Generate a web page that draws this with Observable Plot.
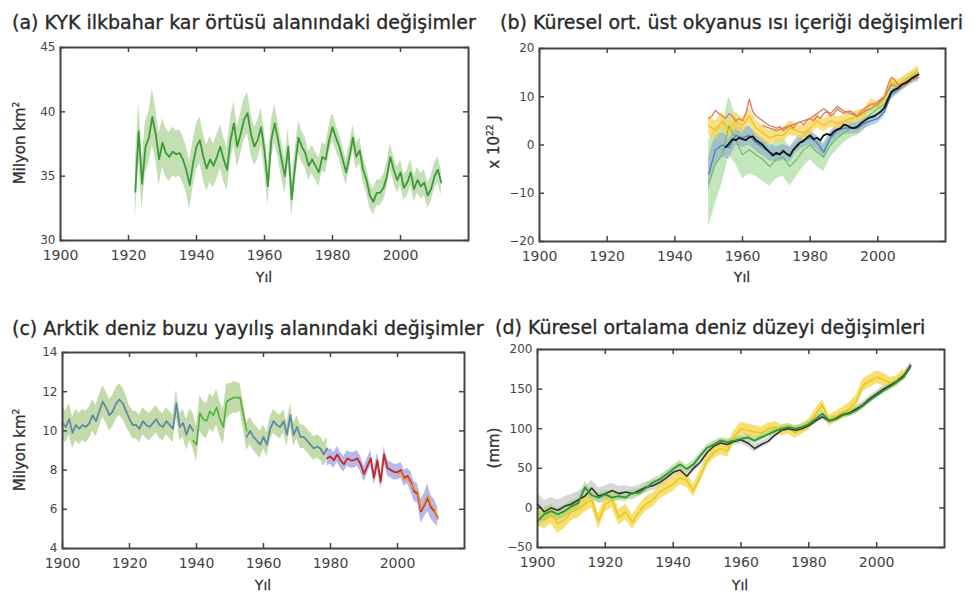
<!DOCTYPE html>
<html><head><meta charset="utf-8">
<script src="https://cdn.jsdelivr.net/npm/d3@7"></script>
<script src="https://cdn.jsdelivr.net/npm/@observablehq/plot@0.6"></script>
<style>
body{margin:0;background:#fff;}
#root{position:relative;width:977px;height:603px;overflow:hidden;font-family:"DejaVu Sans",sans-serif;background:#fff;}
.t{position:absolute;white-space:nowrap;color:#2a2a2a;font-size:19px;line-height:1;transform:translateY(-50%);-webkit-text-stroke:0.35px #2a2a2a;}
.xl{position:absolute;white-space:nowrap;color:#333;font-size:14px;line-height:1;transform:translate(-50%,-50%);-webkit-text-stroke:0.3px #333;}
.yl{position:absolute;white-space:nowrap;color:#333;font-size:15px;line-height:1;transform:translate(-50%,-50%) rotate(-90deg);-webkit-text-stroke:0.3px #333;}
svg text{-webkit-text-stroke:0.25px #444;}
</style></head>
<body><div id="root"></div>
<script>
// ---------- shared ----------
const xTicks = [1900, 1920, 1940, 1960, 1980, 2000];

// ---------- (a) snow cover ----------
const aStart = 1922;
const aSnow = [33.8,38.5,34.4,37.3,38.0,39.6,38.3,36.3,37.6,36.8,
  36.5,36.9,36.7,36.8,36.3,35.5,34.3,36.0,37.3,37.8,
  36.5,35.6,36.3,35.8,36.5,37.3,36.3,35.5,37.8,39.1,
  37.3,38.3,39.4,39.9,38.3,37.3,37.8,38.8,37.0,34.2,
  37.8,39.1,37.8,36.3,35.0,37.3,33.2,35.8,38.0,37.3,
  36.8,35.8,36.3,35.8,35.3,36.5,36.3,37.8,38.8,38.0,
  37.3,36.3,35.3,36.5,38.0,36.5,37.0,35.5,34.7,33.5,
  33.0,33.7,33.7,34.1,35.0,36.5,35.5,34.7,35.3,34.1,
  34.5,35.3,34.0,34.7,34.2,34.5,33.5,34.0,35.0,35.5,
  34.5];
const aUnc = [2.2,2.3,2.0,2.0,2.0,2.2,2.0,2.0,1.9,1.9,
  1.9,1.9,1.8,1.8,1.8,1.8,1.9,1.8,1.8,1.8,
  1.8,1.8,1.8,1.7,1.7,1.7,1.7,1.7,1.7,1.7,
  1.6,1.6,1.6,1.6,1.6,1.5,1.5,1.5,1.5,1.5,
  1.5,1.5,1.4,1.4,1.4,1.4,1.4,1.3,1.3,1.2,
  1.2,1.1,1.1,1.1,1.1,1.1,1.1,1.1,1.1,1.0,
  1.0,1.0,1.0,1.0,1.0,1.0,1.0,1.0,1.0,1.0,
  1.0,1.0,1.0,1.0,1.0,1.0,1.0,1.0,1.0,1.0,
  1.0,1.0,1.0,1.0,1.0,1.0,1.0,1.0,1.0,1.0,
  1.0];
const aYTicks = [30, 35, 40, 45];

// ---------- (b) ocean heat content ----------
const bBlackStart = 1955;
const bBlack = [-0.5,0.3,1.2,1.0,1.5,1.2,1.0,1.6,1.8,1.0,
  0.5,0.0,-0.8,-1.5,-2.2,-1.6,-2.0,-1.2,-1.8,-2.3,
  -1.0,-0.3,0.5,0.8,1.5,2.0,1.2,1.5,1.0,2.0,
  2.3,2.0,2.8,3.2,3.5,4.2,4.0,3.6,3.5,3.8,
  4.5,5.0,5.5,5.8,6.0,6.5,7.0,7.8,9.5,11.0,
  11.5,11.8,12.5,12.8,13.2,13.8,14.2,14.6];
const bOrangeStart = 1950;
const bOrange = [5.5,6.0,7.2,6.5,6.0,5.5,6.5,6.0,5.0,5.5,
  5.0,6.5,9.5,7.0,6.0,5.5,5.0,4.5,4.0,3.8,
  3.5,3.8,3.0,3.5,4.0,3.5,4.5,4.8,4.2,5.0,
  5.5,5.0,6.0,5.5,6.5,7.0,6.0,6.5,7.5,7.0,
  6.5,7.0,7.0,6.5,6.0,7.0,7.5,8.0,8.5,8.5,
  9.0,9.5,10.0,12.5,14.0,13.5,12.5,12.0,12.5,13.0,
  13.5,13.8,14.0];
const bStart2 = 1950; // two-year steps
const bGreen = [-8,-4,-2,4,1,-2,-1,-2,-3,-4.5,-3,-2.5,-4.5,-3,-1,0,
  -1.5,-2.5,0,1.5,2.5,3.5,4,5,6.5,7.5,8.5,11,12,13,14,15];
const bGreenUnc = [9,8,6,6,5,5,5,4.5,4.5,4,4,4,4,3.5,3.5,3,
  3,3,2.5,2.5,2,2,2,2,1.5,1.5,1.5,1.5,1.2,1.2,1,1];
const bBlue = [-6,-1,0,-0.5,2,1.5,2,0.5,-0.5,-1.5,-2,-1.5,-2,0,1,1.5,
  0.5,-1.5,1.5,3,3.5,3.5,3.5,4.5,5,5.5,7,10.5,11.5,12.5,13.5,14];
const bBlueUnc = [3.5,3,2.5,2.5,2,2,2,1.8,1.8,1.8,1.6,1.6,1.6,1.5,1.5,1.5,
  1.4,1.4,1.3,1.3,1.2,1.2,1.1,1.1,1.0,1.0,1.0,0.9,0.9,0.8,0.8,0.8];
const bYellow = [4,3,5,3,5,4,6,3.5,2.5,1.5,2,2,3.5,3,2.5,3.5,
  5,4,5,4.5,5,5.5,6,6.5,8.5,8,9.5,13,12.5,13.5,14.5,15.5];
const bYellowUnc = [2.0,2.0,1.8,1.8,1.8,1.6,1.6,1.6,1.5,1.5,1.5,1.5,1.5,1.4,1.4,1.4,
  1.4,1.3,1.3,1.3,1.2,1.2,1.2,1.1,1.1,1.0,1.0,1.0,1.0,0.9,0.9,0.9];
const bBrownStart = 1966;
const bBrown = [4,3.5,3,3.5,4,4.5,5,5.5,6.5,7.5,6.5,8,
  7,6.5,6,7,7.5,8.5,10,12.5,12,13,13.5,14];
const bYTicks = [-20, -10, 0, 10, 20];

// ---------- (c) Arctic sea ice ----------
const cStart = 1900;
const cBlue = [10.4,10.2,10.6,9.9,10.3,10.1,10.3,10.2,10.4,10.8,
  10.5,11.0,11.5,11.2,10.8,11.0,11.4,11.6,11.4,11.0,
  10.6,10.3,10.3,10.1,10.5,10.3,10.2,10.4,10.6,10.3,
  10.2,10.5,10.3,10.1,11.4,10.2,10.4,9.8,10.3,10.0,
  null,null,null,null,null,null,null,null,null,null,
  null,null,null,null,null,9.7,10.0,9.7,9.5,9.3,
  9.7,9.3,10.1,10.5,10.3,10.2,10.5,9.8,10.8,9.8,
  10.2,9.7,9.7,9.5,9.3,9.1,9.2,9.1,8.8,9.1];
const cBandUnc = [0.8,0.8,0.8,0.8,0.8,0.8,0.8,0.8,0.8,0.8,
  0.8,0.8,0.8,0.8,0.8,0.8,0.8,0.8,0.8,0.8,
  0.7,0.7,0.7,0.7,0.7,0.7,0.7,0.7,0.7,0.7,
  0.7,0.7,0.7,0.7,0.7,0.7,0.7,0.8,0.8,0.9,
  0.9,0.9,0.9,0.9,0.9,0.9,0.9,0.9,0.9,0.9,
  0.8,0.8,0.8,0.7,0.7,0.7,0.7,0.7,0.7,0.7,
  0.6,0.6,0.6,0.6,0.6,0.6,0.6,0.6,0.6,0.6,
  0.6,0.6,0.6,0.6,0.6,0.6,0.6,0.6,0.6,0.6];
const cGreenStart = 1939;
const cGreen = [9.5,9.3,10.9,10.6,10.5,11.0,10.8,11.2,10.6,10.2,
  11.5,11.6,11.7,11.7,11.7,10.8,10.0];
const cRedStart = 1979;
const cRed = [8.6,8.7,8.5,8.8,8.5,8.3,8.6,8.5,8.5,8.6,
  8.3,7.8,8.2,8.6,7.6,8.5,7.4,8.8,8.1,8.0,
  7.9,7.9,8.0,7.6,7.7,7.4,6.9,6.8,5.9,6.2,
  6.6,6.1,5.9,5.6];
const cRedUnc = [0.4,0.4,0.4,0.4,0.4,0.4,0.4,0.4,0.4,0.4,
  0.4,0.4,0.4,0.4,0.4,0.4,0.4,0.4,0.4,0.4,
  0.4,0.4,0.4,0.4,0.4,0.5,0.5,0.5,0.6,0.6,
  0.7,0.6,0.6,0.5];
const cOrangeStart = 2000;
const cOrange = [7.8,7.9,7.5,7.6,7.3,7.0,6.9,6.0,6.3,6.7,6.2,6.0,5.5];
const cYTicks = [4, 6, 8, 10, 12, 14];

// ---------- (d) sea level ----------
const dStart = 1900; // two-year steps
const dGreen = [-17,-8,-4,-8,-4,2,6,26,16,13,17,13,15,13,19,19,25,32,36,42,
  49,55,49,55,66,76,80,85,83,85,87,89,85,89,93,97,100,102,100,102,
  106,112,119,110,112,117,119,123,129,136,142,148,153,159,165,178];
const dGreenUnc = [9,9,8,8,8,7,7,7,6,6,6,6,6,5,5,5,5,5,5,5,
  5,5,5,5,4,4,4,4,4,4,4,4,4,4,4,4,4,4,4,4,
  4,4,4,4,4,4,4,4,4,4,4,4,4,4,4,4];
const dBlack = [5,-5,0,-3,2,5,10,15,25,15,18,22,18,20,18,22,26,28,32,38,
  45,48,40,50,58,70,78,82,80,84,86,82,75,80,84,92,98,100,98,100,
  104,110,115,110,113,118,120,125,130,138,144,150,155,160,167,180];
const dGrayUnc = [14,14,13,13,12,12,11,11,10,10,10,9,9,8,8,7,7,6,6,6,
  6,5,5,5,5,5,5,5,5,5,5,5,5,4,4,4,4,4,4,4,
  4,4,4,4,4,4,4,4,4,4,4,4,4,4,4,5];
const dYellow = [-10,-15,-8,-20,-15,-5,-2,5,10,-17,5,10,-12,-5,-18,-5,5,10,20,25,
  30,38,35,22,40,60,70,75,72,90,100,98,96,95,100,102,98,100,95,100,
  105,118,130,110,115,120,125,135,155,160,165,162,158,160,170];
const dYellowUnc = [12,12,12,12,11,11,11,10,10,10,10,10,10,10,9,9,9,9,9,9,
  9,9,9,8,8,8,8,8,8,8,8,8,8,7,7,7,7,7,7,7,
  7,7,7,7,7,7,8,8,8,8,8,8,7,7,6];
const dYTicks = [-50, 0, 50, 100, 150, 200];

// ---------- helpers ----------
const series = (start, step, vals, unc) =>
  vals.map((v, i) => ({year: start + i * step, v, u: unc ? unc[i] : 0}));
const band = (data, fill, op) => Plot.areaY(data.filter(d => d.v != null),
  {x: "year", y1: d => d.v - d.u, y2: d => d.v + d.u, fill, fillOpacity: op, curve: "linear"});
const line = (data, stroke, w) => Plot.line(data, {x: "year", y: "v", stroke, strokeWidth: w, curve: "linear"});

const root = document.getElementById("root");
function panel(left, top, w, h, m, yDomain, yTicks, marks) {
  const ih = h - m[0] - m[2], iw = w - m[1] - m[3], tk = 5;
  const tickStyle = {stroke: "#444", strokeWidth: 1.5};
  const p = Plot.plot({
    width: w, height: h,
    marginTop: m[0], marginRight: m[1], marginBottom: m[2], marginLeft: m[3],
    style: {fontFamily: "DejaVu Sans, sans-serif", fontSize: "12px", color: "#444", background: "transparent", overflow: "visible"},
    x: {domain: [1900, 2020]},
    y: {domain: yDomain},
    marks: [
      ...marks,
      Plot.tickX(xTicks, {x: d => d, insetTop: ih - tk, ...tickStyle}),
      Plot.tickX(xTicks, {x: d => d, insetBottom: ih - tk, ...tickStyle}),
      Plot.tickY(yTicks, {y: d => d, insetRight: iw - tk, ...tickStyle}),
      Plot.tickY(yTicks, {y: d => d, insetLeft: iw - tk, ...tickStyle}),
      Plot.frame({stroke: "#444", strokeWidth: 2}),
      Plot.axisX(xTicks, {anchor: "bottom", tickSize: 0, tickPadding: 10, fontSize: 14, tickFormat: d => String(d), label: null}),
      Plot.axisY(yTicks, {anchor: "left", tickSize: 0, tickPadding: 5, fontSize: 12, label: null})
    ]
  });
  p.style.position = "absolute"; p.style.left = left + "px"; p.style.top = top + "px";
  root.appendChild(p);
}
function txt(cls, s, x, y) {
  const d = document.createElement("div");
  d.className = cls; d.innerHTML = s;
  d.style.left = x + "px"; d.style.top = y + "px";
  root.appendChild(d);
}

// (a)
const aData = series(aStart, 1, aSnow, aUnc);
panel(0, 0, 488, 300, [47, 20, 60, 60], [30, 45], aYTicks, [
  band(aData, "#b9d9a6", 0.85),
  line(aData, "#3d9a3a", 1.8)
]);
// (b)
const bGreenD = series(bStart2, 2, bGreen, bGreenUnc);
const bBlueD = series(bStart2, 2, bBlue, bBlueUnc);
const bYellowD = series(bStart2, 2, bYellow, bYellowUnc);
panel(488, 0, 489, 300, [48, 32, 59, 51], [-20, 20], bYTicks, [
  band(bGreenD, "#a9dca0", 0.7),
  band(bBlueD, "#8aa8cc", 0.6),
  band(bYellowD, "#f6d55a", 0.75),
  line(bGreenD, "#6cbf6a", 1.2),
  line(bBlueD, "#4f7fb8", 1.3),
  line(bYellowD, "#f0c020", 1.3),
  line(series(bBrownStart, 2, bBrown), "#b58a6a", 1.3),
  line(series(bOrangeStart, 1, bOrange), "#ef7a5a", 1.4),
  line(series(bBlackStart, 1, bBlack), "#111", 1.8)
]);
// (c)
const cBlueD = series(cStart, 1, cBlue, cBandUnc);
const cBandD = cBlueD.map(d => ({...d, v: d.v != null ? d.v : cGreen[d.year - cGreenStart]}));
const cRedD = series(cRedStart, 1, cRed, cRedUnc);
panel(0, 300, 488, 303, [52, 24, 55, 62], [4, 14], cYTicks, [
  band(cBandD, "#b8d49c", 0.85),
  band(cRedD, "#a4a6e6", 0.8),
  line(cBlueD, "#5f8aa6", 1.8),
  line(series(cGreenStart, 1, cGreen), "#4cb43a", 1.6),
  line(cRedD, "#c8281a", 1.8),
  line(series(cOrangeStart, 1, cOrange), "#f08a28", 1.5)
]);
// (d)
const dGreenD = series(dStart, 2, dGreen, dGreenUnc);
const dBlackD = series(dStart, 2, dBlack, dGrayUnc);
const dYellowD = series(dStart, 2, dYellow, dYellowUnc);
panel(488, 300, 489, 303, [49, 33, 56, 49], [-50, 200], dYTicks, [
  band(dBlackD, "#bcbcbc", 0.6),
  band(dYellowD, "#f4d640", 0.75),
  band(dGreenD, "#9ed27a", 0.6),
  line(dYellowD, "#e9c21c", 1.3),
  line(dBlackD, "#333", 1.6),
  line(dGreenD, "#2f9438", 1.8)
]);

// titles and axis labels
txt("t", "(a) KYK ilkbahar kar örtüsü alanındaki değişimler", 12, 22);
txt("t", "(b) Küresel ort. üst okyanus ısı içeriği değişimleri", 500, 22);
txt("t", "(c) Arktik deniz buzu yayılış alanındaki değişimler", 12, 328);
txt("t", "(d) Küresel ortalama deniz düzeyi değişimleri", 495, 327);
txt("xl", "Yıl", 264, 277);
txt("xl", "Yıl", 742, 277);
txt("xl", "Yıl", 263, 585);
txt("xl", "Yıl", 740, 585);
txt("yl", "Milyon km<sup style='font-size:9px'>2</sup>", 20, 143);
txt("yl", "x 10<sup style='font-size:9px'>22</sup> J", 494, 142);
txt("yl", "Milyon km<sup style='font-size:9px'>2</sup>", 20, 450);
txt("yl", "(mm)", 494, 448);
</script>
</body></html>
